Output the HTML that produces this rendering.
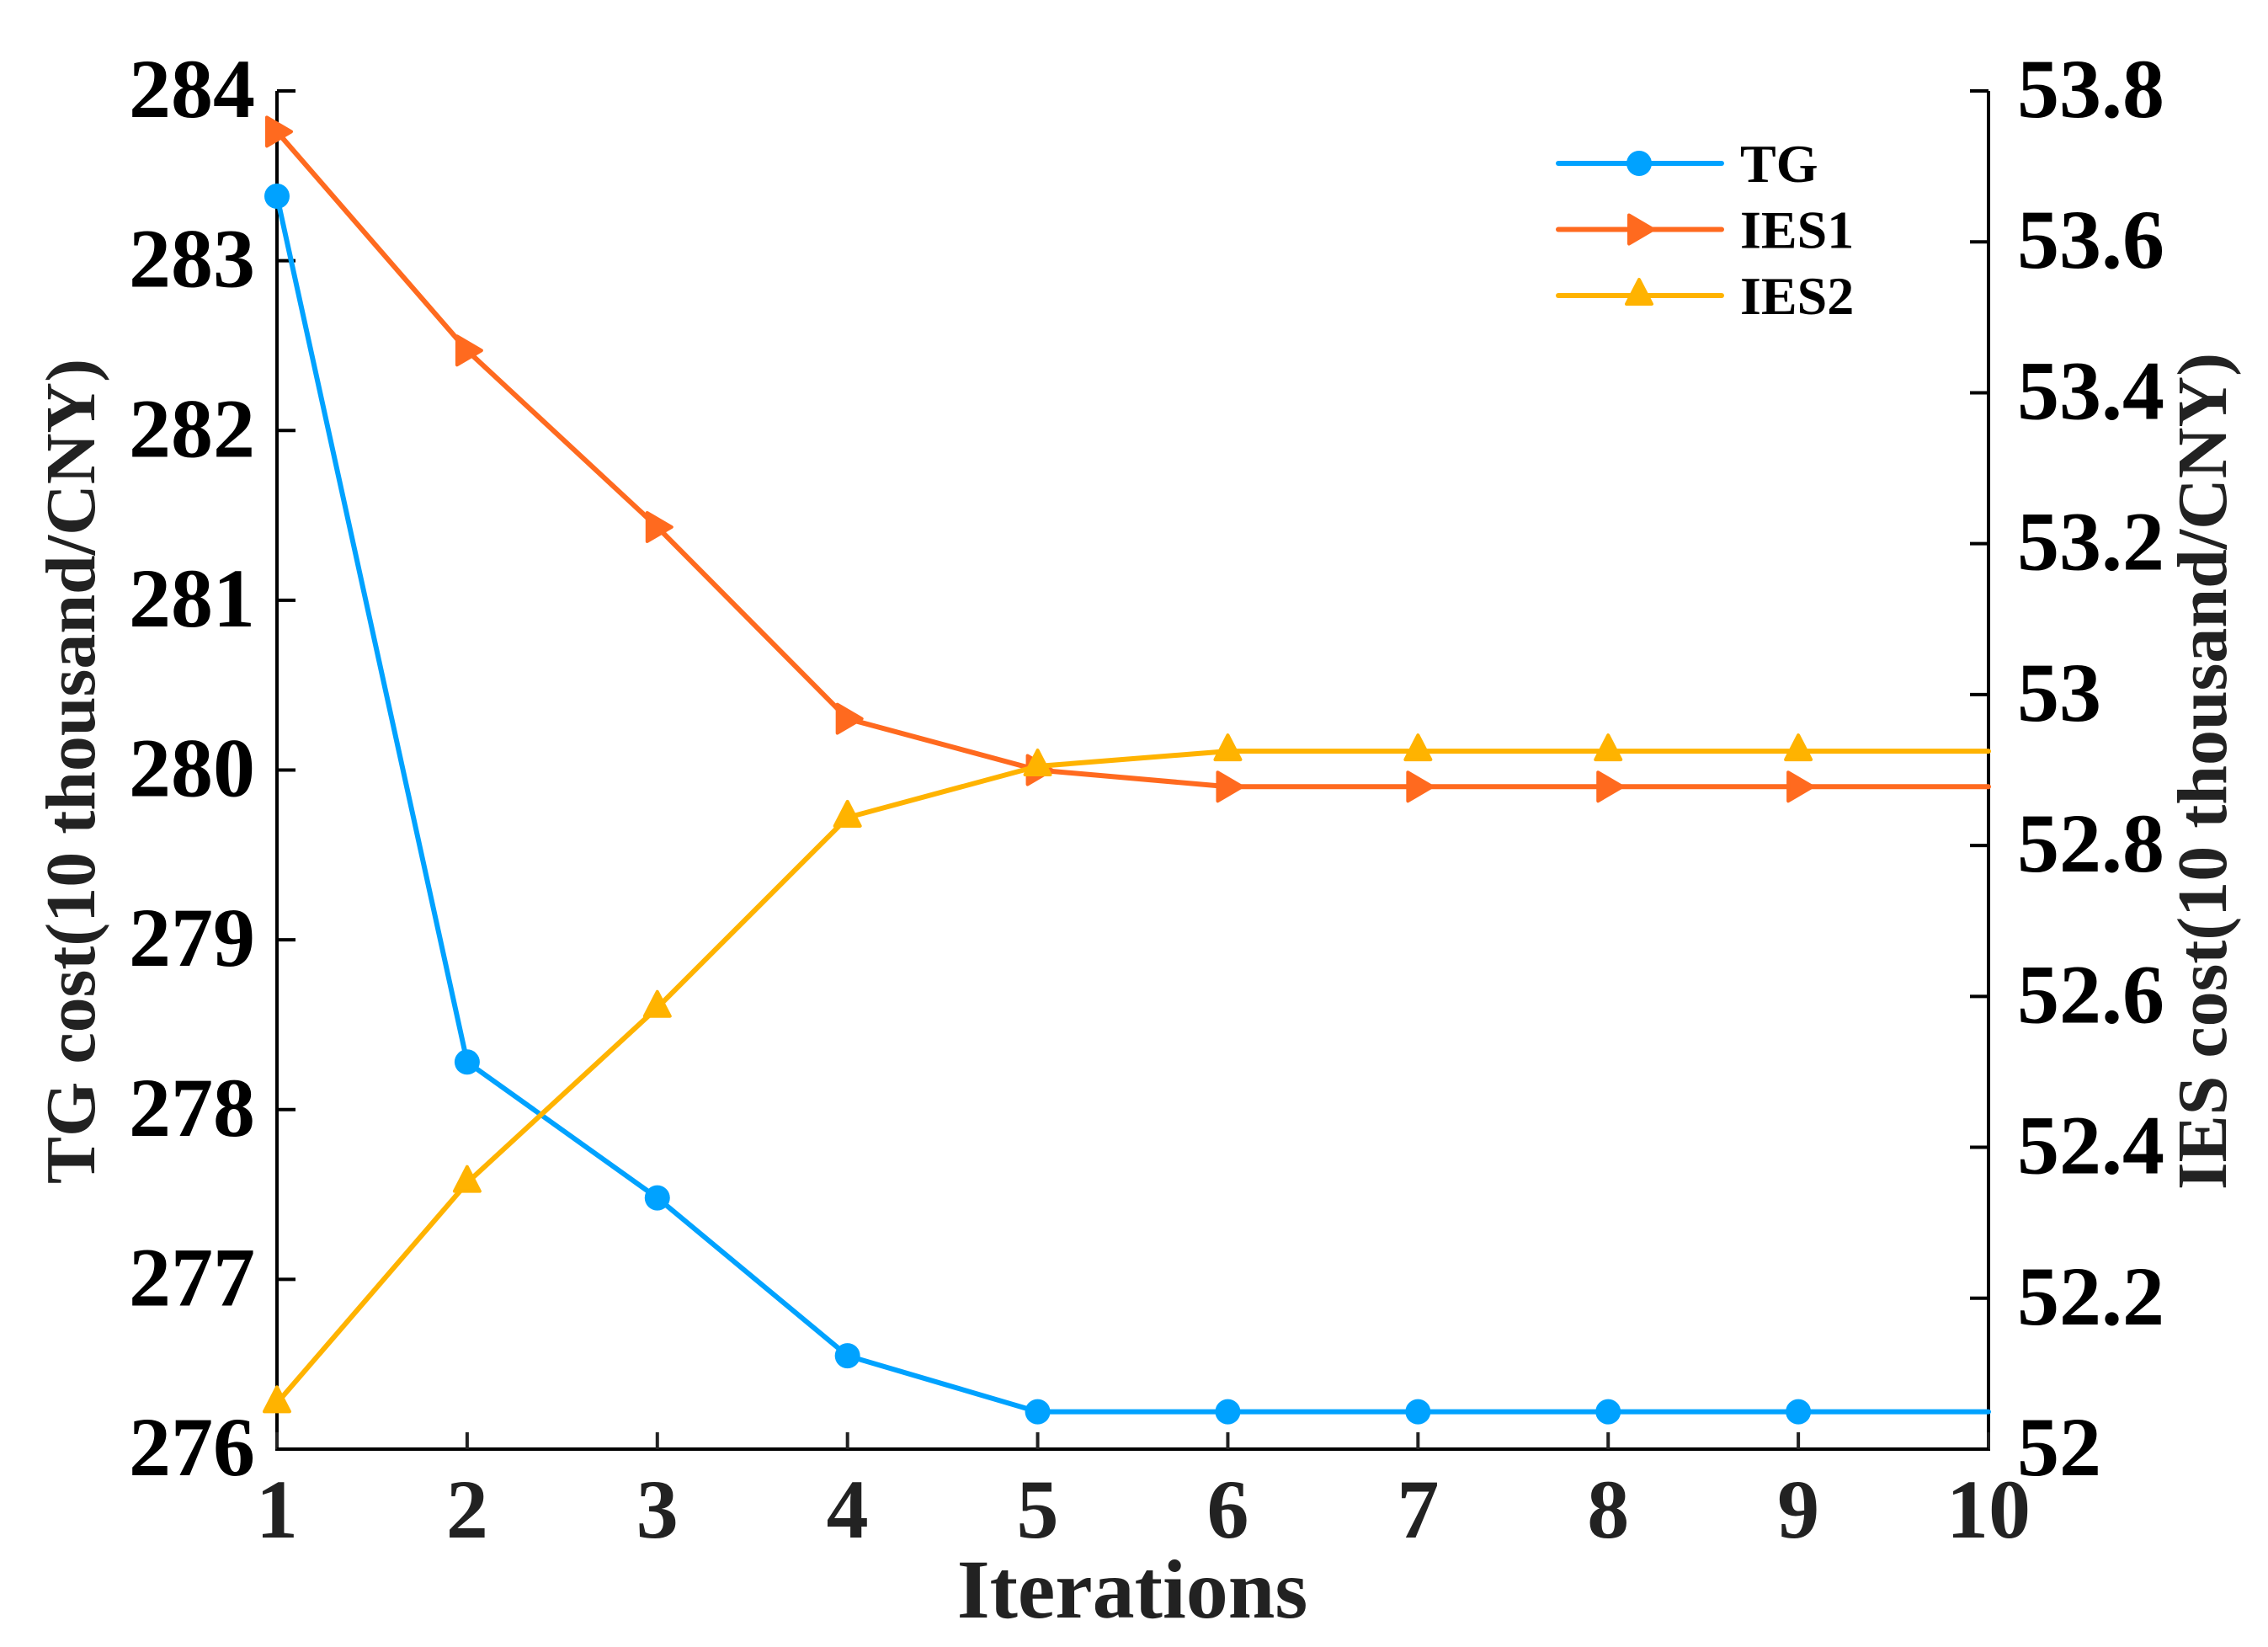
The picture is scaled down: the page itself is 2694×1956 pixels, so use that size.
<!DOCTYPE html>
<html><head><meta charset="utf-8"><style>
html,body{margin:0;padding:0;background:#fff;}
svg{display:block;font-family:"Liberation Serif",serif;font-weight:bold;}
</style></head><body>
<svg id="chart" width="2694" height="1956" viewBox="0 0 2694 1956" xmlns="http://www.w3.org/2000/svg">
<g id="axes"></g>
<g id="series"></g>
<g id="legend"></g>
</svg>
<script>
const iterations = [1,2,3,4,5,6,7,8,9,10];
const tgCost = [283.38,278.28,277.48,276.55,276.22,276.22,276.22,276.22,276.22,276.22];
const ies1Cost = [53.746,53.456,53.222,52.968,52.900,52.878,52.878,52.878,52.878,52.878];
const ies2Cost = [52.061,52.353,52.585,52.837,52.905,52.925,52.925,52.925,52.925,52.925];
const xTicks = [1,2,3,4,5,6,7,8,9,10];
const leftTicks = [276,277,278,279,280,281,282,283,284];
const rightTicks = [52,52.2,52.4,52.6,52.8,53,53.2,53.4,53.6,53.8];
const rightTickLabels = ["52","52.2","52.4","52.6","52.8","53","53.2","53.4","53.6","53.8"];

const NS="http://www.w3.org/2000/svg";
const L=329,R=2362,T=108,B=1721;
const xs=v=>L+(v-1)/(10-1)*(R-L);
const yl=v=>B-(v-276)/(284-276)*(B-T);
const yr=v=>B-(v-52)/(53.8-52)*(B-T);
function mk(tag,attrs,parent){const e=document.createElementNS(NS,tag);for(const k in attrs)e.setAttribute(k,attrs[k]);parent.appendChild(e);return e;}
const axes=document.getElementById('axes'),ser=document.getElementById('series'),leg=document.getElementById('legend');

let e=mk('path',{d:`M${L},${T} V${B} H${R} V${T}`,fill:'none',stroke:'#000','stroke-width':4},axes);


xTicks.forEach(v=>{
  const x=xs(v);
  let t=mk('line',{x1:x,x2:x,y1:B,y2:B-20,stroke:'#222','stroke-width':4},axes);
  
  
  let tx=mk('text',{x:x,y:1826,'text-anchor':'middle','font-size':100,fill:'#222'},axes);
  tx.textContent=v;
  
  
});
leftTicks.forEach(v=>{
  const y=yl(v);
  let t=mk('line',{x1:L,x2:L+22,y1:y,y2:y,stroke:'#000','stroke-width':4},axes);
  
  
  let tx=mk('text',{x:303,y:y+31,'text-anchor':'end','font-size':100,fill:'#000'},axes);
  tx.textContent=v;
  
  
});
rightTicks.forEach((v,i)=>{
  const y=yr(v);
  let t=mk('line',{x1:R,x2:R-22,y1:y,y2:y,stroke:'#000','stroke-width':4},axes);
  
  
  let tx=mk('text',{x:2396,y:y+31,'text-anchor':'start','font-size':100,fill:'#000'},axes);
  tx.textContent=rightTickLabels[i];
  
  
});
let xt=mk('text',{x:1345,y:1921,'text-anchor':'middle','font-size':100,fill:'#222'},axes);
xt.textContent='Iterations';


let lt=mk('text',{x:0,y:0,'text-anchor':'middle','font-size':84,fill:'#222',transform:'translate(112,916) rotate(-90)'},axes);
lt.textContent='TG cost(10 thousand/CNY)';


let rt=mk('text',{x:0,y:0,'text-anchor':'middle','font-size':84,fill:'#222',transform:'translate(2644,916) rotate(-90)'},axes);
rt.textContent='IES cost(10 thousand/CNY)';



function marker(type,x,y,color,parent){
  let m;
  if(type==='circle') m=mk('circle',{cx:x,cy:y,r:15,fill:color},parent);
  else if(type==='right') m=mk('polygon',{points:`${x-12},${y-17} ${x+17},${y} ${x-12},${y+17}`,fill:color,stroke:color,'stroke-width':4,'stroke-linejoin':'round'},parent);
  else m=mk('polygon',{points:`${x},${y-19} ${x+15},${y+10} ${x-15},${y+10}`,fill:color,stroke:color,'stroke-width':4,'stroke-linejoin':'round'},parent);
  return m;
}
const seriesDefs=[
  {name:'TG',vals:tgCost,ys:yl,color:'#00A2FF',m:'circle'},
  {name:'IES1',vals:ies1Cost,ys:yr,color:'#FF6A1F',m:'right'},
  {name:'IES2',vals:ies2Cost,ys:yr,color:'#FFB300',m:'up'}
];
seriesDefs.forEach((s,si)=>{
  const g=mk('g',{},ser);
  
  
  const pts=s.vals.map((v,i)=>xs(iterations[i])+','+s.ys(v)).join(' ');
  let pl=mk('polyline',{points:pts,fill:'none',stroke:s.color,'stroke-width':6,'stroke-linejoin':'round','stroke-linecap':'round'},g);
  
  
  s.vals.forEach((v,i)=>{
    if(i>=9) return;
    let m=marker(s.m,xs(iterations[i]),s.ys(v),s.color,g);
    
    
  });
  const ly=194+si*78.5;
  const lg=mk('g',{},leg);
  
  
  mk('line',{x1:1851,x2:2045,y1:ly,y2:ly,stroke:s.color,'stroke-width':6,'stroke-linecap':'round'},lg);
  marker(s.m,1947,ly,s.color,lg);
  let lt2=mk('text',{x:2067,y:ly+22,'font-size':64,fill:'#000'},lg);
  lt2.textContent=s.name;
});
</script>
</body></html>
